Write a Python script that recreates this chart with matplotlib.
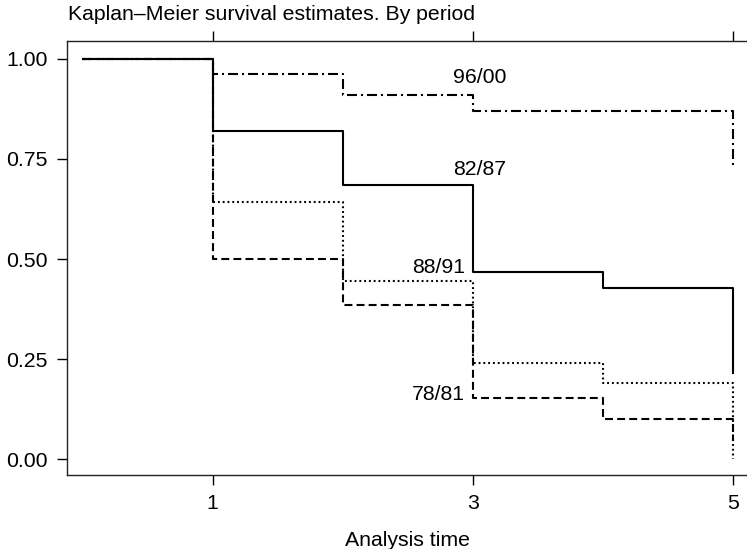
import matplotlib
matplotlib.use("Agg")
import matplotlib.pyplot as plt

plt.rcParams['font.family'] = ['Liberation Sans', 'DejaVu Sans']

# survival estimates at the start of each year, by period of diagnosis
times = [0, 1, 2, 3, 4, 5]
surv_7881 = [1.00, 0.500, 0.385, 0.152, 0.102, 0.045]
surv_8287 = [1.00, 0.820, 0.685, 0.468, 0.427, 0.215]
surv_8891 = [1.00, 0.643, 0.446, 0.240, 0.191, 0.000]
surv_9600 = [1.00, 0.962, 0.910, 0.870, 0.870, 0.731]

period_labels = ["78/81", "82/87", "88/91", "96/00"]
label_x = [2.94, 2.85, 2.94, 2.85]
label_y = [0.162, 0.724, 0.479, 0.953]
label_ha = ["right", "left", "right", "left"]

fs = 15.3

fig = plt.figure(figsize=(7.47, 5.49), dpi=100)
# plot region runs off the right edge of the canvas
ax = fig.add_axes([0.0897, 0.1348, 0.92, 0.7905])

lw = 1.5
ax.step(times, surv_9600, where='post', color='black', lw=lw,
        linestyle=(0, (4.8, 1.9, 1, 1.9)))
ax.step(times, surv_7881, where='post', color='black', lw=lw,
        linestyle=(0, (3.8, 2.0)))
ax.step(times, surv_8891, where='post', color='black', lw=lw,
        linestyle=(0, (0.9, 1.4)))
ax.step(times, surv_8287, where='post', color='black', lw=lw)

for txt, x, y, ha in zip(period_labels, label_x, label_y, label_ha):
    ax.text(x, y, txt, ha=ha, va='center', fontsize=fs)

ax.set_xlim(-0.121, 5.166)
ax.set_ylim(-0.039, 1.0445)
ax.set_xticks([1, 3, 5])
ax.set_yticks([0, 0.25, 0.5, 0.75, 1.0])
ax.set_yticklabels(["0.00", "0.25", "0.50", "0.75", "1.00"])
ax.tick_params(axis='both', direction='out', length=7.2, width=1,
               labelsize=fs, colors='black')
ax.tick_params(axis='x', pad=6.5, top=True)
ax.tick_params(axis='y', pad=7)

ax.spines['right'].set_visible(False)
for side in ['left', 'bottom', 'top']:
    ax.spines[side].set_linewidth(1)
    ax.spines[side].set_color('#222222')

ax.set_xlabel("Analysis time", fontsize=fs, va='center')
ax.xaxis.set_label_coords(0.4948, -0.15)

fig.text(0.091, 1 - 15 / 549, "Kaplan\u2013Meier survival estimates. By period",
         ha='left', va='center', fontsize=fs)

fig.savefig("out.png", dpi=100)
